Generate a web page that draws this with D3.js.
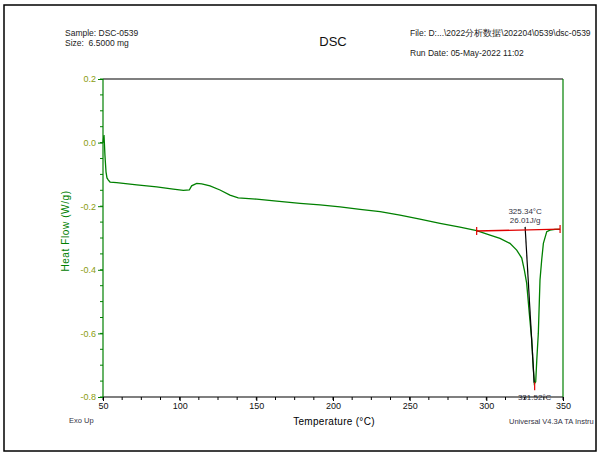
<!DOCTYPE html>
<html><head><meta charset="utf-8">
<script src="https://cdn.jsdelivr.net/npm/d3@7"></script>
<style>
html,body{margin:0;padding:0;background:#fff;}
svg{display:block;font-family:Arial,"Liberation Sans",sans-serif;}
</style></head>
<body>
<svg id="c" width="599" height="455"></svg>
<script>
// ---- data ----
const temps = [50.0, 50.65, 51.3, 51.96, 52.6, 53.5, 54.6, 58.9, 72.0, 85.0, 95.8, 102.4, 106.3, 107.8, 111.1, 114.4, 119.8, 126.3, 132.8, 138.2, 150.2, 163.3, 178.5, 191.5, 204.6, 217.6, 230.7, 243.7, 256.7, 269.8, 282.8, 293.7, 302.4, 308.9, 315.4, 319.8, 323.1, 324.8, 326.3, 328.0, 329.6, 330.6, 331.3, 332.2, 332.9, 333.9, 335.0, 336.1, 337.2, 339.4, 341.5, 344.8, 348.1];
const heatFlow = [0.0, 0.024, -0.042, -0.092, -0.111, -0.118, -0.124, -0.126, -0.133, -0.139, -0.146, -0.150, -0.149, -0.136, -0.128, -0.130, -0.136, -0.149, -0.165, -0.174, -0.178, -0.184, -0.191, -0.196, -0.202, -0.210, -0.217, -0.228, -0.241, -0.254, -0.266, -0.277, -0.291, -0.301, -0.317, -0.338, -0.363, -0.401, -0.442, -0.536, -0.621, -0.705, -0.758, -0.752, -0.684, -0.600, -0.432, -0.369, -0.317, -0.280, -0.275, -0.273, -0.273];
const xTicks = [50, 100, 150, 200, 250, 300, 350];
const xMinorTicks = d3.range(50, 350.1, 12.5);
const yTicks = [0.2, 0.0, -0.2, -0.4, -0.6, -0.8];
const yTickLabels = ["0.2", "0.0", "-0.2", "-0.4", "-0.6", "-0.8"];
const yMinorTicks = d3.range(-0.8, 0.2001, 0.05);
const baselineT = [293.7, 348.1];
const baselineHF = [-0.278, -0.272];
const tangentT = [325.3, 331.2];
const tangentHF = [-0.265, -0.755];
const peakT = 331.52, peakHF = -0.757;
const onsetLabel = "325.34°C", enthalpyLabel = "26.01J/g", peakLabel = "331.52°C";

// ---- layout ----
const svg = d3.select("#c");
const L = 103, R = 563, T = 79, B = 397;
const x = d3.scaleLinear().domain([50, 350]).range([L, R]);
const y = d3.scaleLinear().domain([-0.8, 0.2]).range([B, T]);
const green = "#008000", lab = "#8a9c10", ann = "#333344";

svg.append("defs").append("clipPath").attr("id", "frame")
  .append("rect").attr("x", 4).attr("y", 5).attr("width", 592).attr("height", 446);
svg.append("rect").attr("x", 4).attr("y", 5).attr("width", 592).attr("height", 446)
  .attr("fill", "none").attr("stroke", "#000").attr("stroke-width", 1.5);

const g = svg.append("g").attr("clip-path", "url(#frame)");

// header texts
const hdr = (t, xx, yy, fs, anchor, col) => g.append("text").attr("x", xx).attr("y", yy)
  .attr("font-size", fs).attr("text-anchor", anchor || "start").attr("fill", col || "#222").text(t);
hdr("Sample: DSC-0539", 65, 36, "8.5px");
hdr("Size:  6.5000 mg", 65, 46, "8.5px").attr("xml:space", "preserve").style("white-space", "pre");
hdr("DSC", 333, 46, "13px", "middle", "#111");
hdr("File: D:...\\2022分析数据\\202204\\0539\\dsc-0539", 410, 36, "8.5px");
hdr("Run Date: 05-May-2022 11:02", 410, 56, "8.5px");

// minor ticks
g.selectAll(".ymin").data(yMinorTicks).enter().append("line")
  .attr("x1", L - 3).attr("x2", L).attr("y1", d => y(d)).attr("y2", d => y(d))
  .attr("stroke", green).attr("stroke-width", 1);
g.selectAll(".xmin").data(xMinorTicks).enter().append("line")
  .attr("x1", d => x(d)).attr("x2", d => x(d)).attr("y1", B).attr("y2", B + 3)
  .attr("stroke", "#000").attr("stroke-width", 1);

// axes
const yAxis = d3.axisLeft(y).tickValues(yTicks).tickSize(5).tickPadding(2)
  .tickFormat((d, i) => yTickLabels[i]);
const ya = g.append("g").attr("transform", `translate(${L},0)`).call(yAxis);
ya.select(".domain").remove();
ya.selectAll("line").attr("stroke", green);
ya.selectAll("text").attr("fill", lab).attr("font-size", "9px").attr("font-family", "Arial, sans-serif");

const xAxis = d3.axisBottom(x).tickValues(xTicks).tickSize(4).tickPadding(2).tickFormat(d3.format("d"));
const xa = g.append("g").attr("transform", `translate(0,${B})`).call(xAxis);
xa.select(".domain").remove();
xa.selectAll("line").attr("stroke", "#000");
xa.selectAll("text").attr("fill", "#111").attr("font-size", "9px").attr("font-family", "Arial, sans-serif");

// curve
const pts = temps.map((t, i) => [t, heatFlow[i]]);
g.append("path").datum(pts)
  .attr("d", d3.line().x(d => x(d[0])).y(d => y(d[1])))
  .attr("fill", "none").attr("stroke", green).attr("stroke-width", 1.3);

// tangent (black)
g.append("line").attr("x1", x(tangentT[0])).attr("y1", y(tangentHF[0]))
  .attr("x2", x(tangentT[1])).attr("y2", y(tangentHF[1]))
  .attr("stroke", "#000").attr("stroke-width", 1.2);

// red baseline with end ticks
g.append("line").attr("x1", x(baselineT[0])).attr("y1", y(baselineHF[0]))
  .attr("x2", x(baselineT[1])).attr("y2", y(baselineHF[1]))
  .attr("stroke", "#e00000").attr("stroke-width", 1.3);
baselineT.forEach((t, i) => g.append("line")
  .attr("x1", x(t)).attr("x2", x(t)).attr("y1", y(baselineHF[i]) - 4).attr("y2", y(baselineHF[i]) + 4)
  .attr("stroke", "#e00000").attr("stroke-width", 1.2));
// peak marker
g.append("line").attr("x1", x(peakT)).attr("x2", x(peakT))
  .attr("y1", y(peakHF) - 1).attr("y2", y(peakHF) + 7)
  .attr("stroke", "#e00000").attr("stroke-width", 1.2);

// annotations
g.append("text").attr("x", x(tangentT[0])).attr("y", 214).attr("text-anchor", "middle")
  .attr("font-size", "8px").attr("fill", ann).text(onsetLabel);
g.append("text").attr("x", x(tangentT[0])).attr("y", 223).attr("text-anchor", "middle")
  .attr("font-size", "8px").attr("fill", ann).text(enthalpyLabel);
g.append("text").attr("x", x(peakT)).attr("y", 400).attr("text-anchor", "middle")
  .attr("font-size", "8px").attr("fill", ann).text(peakLabel);

// frame lines
g.append("line").attr("x1", L).attr("x2", R).attr("y1", T).attr("y2", T).attr("stroke", "#000").attr("stroke-width", 1.2);
g.append("line").attr("x1", L).attr("x2", R).attr("y1", B).attr("y2", B).attr("stroke", "#000").attr("stroke-width", 1.2);
g.append("line").attr("x1", L).attr("x2", L).attr("y1", T).attr("y2", B).attr("stroke", green).attr("stroke-width", 1.2);
g.append("line").attr("x1", R).attr("x2", R).attr("y1", T).attr("y2", B).attr("stroke", green).attr("stroke-width", 1.2);

// axis titles
g.append("text").attr("transform", "translate(69,231) rotate(-90)").attr("text-anchor", "middle")
  .attr("font-size", "10px").attr("letter-spacing", "0.6px").attr("fill", green).text("Heat Flow (W/g)");
g.append("text").attr("x", 334).attr("y", 425).attr("text-anchor", "middle")
  .attr("font-size", "10px").attr("letter-spacing", "0.3px").attr("fill", "#000").text("Temperature (°C)");
g.append("text").attr("x", 69).attr("y", 423).attr("font-size", "7.5px").attr("fill", ann).text("Exo Up");
g.append("text").attr("x", 509).attr("y", 424).attr("font-size", "7.5px").attr("fill", ann).text("Universal V4.3A TA Instru");
</script>
</body></html>
